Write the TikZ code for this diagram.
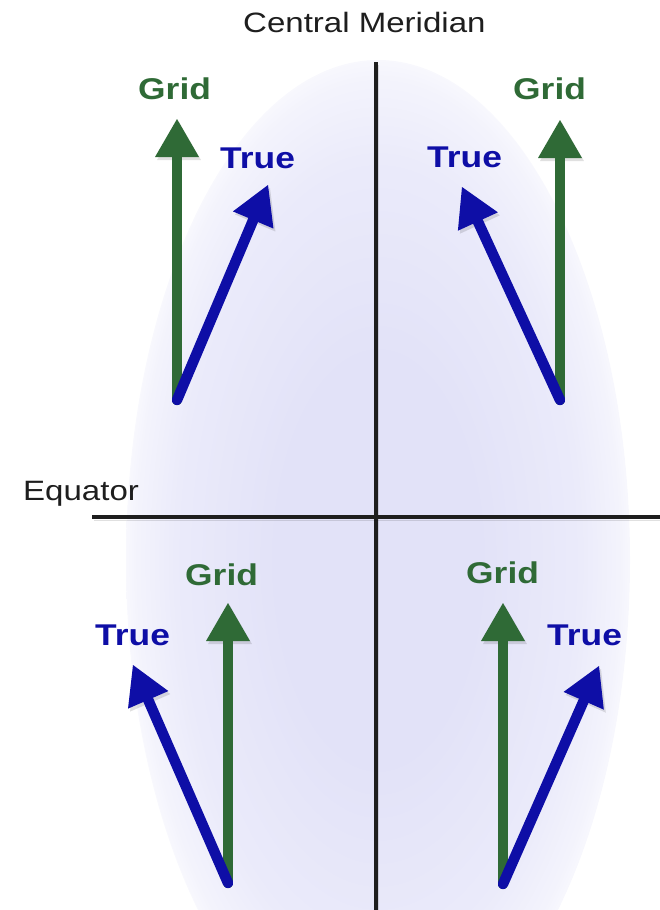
\documentclass[tikz,border=0pt]{standalone}
\usepackage{fontspec}
\setmainfont{Liberation Sans}[FakeStretch=1.18]
\usepackage{xcolor}
\usepackage{tikz}
\usetikzlibrary{arrows.meta}
\definecolor{GridGreen}{HTML}{2F6A36}
\definecolor{TrueBlue}{HTML}{0E0EA6}
\definecolor{Haze}{HTML}{E2E2F8}
\definecolor{Ink}{HTML}{1E1E1E}
\pgfdeclareradialshading{haze}{\pgfpoint{0bp}{0bp}}{color(0bp)=(Haze); color(10bp)=(Haze); color(20bp)=(Haze!70); color(24bp)=(Haze!40); color(25bp)=(Haze!25); color(26bp)=(white); color(50bp)=(white)}

\begin{document}
\begin{tikzpicture}[x=1pt,y=-1pt,
  soft/.style={preaction={draw=black,opacity=.12,transform canvas={shift={(2pt,-3pt)}}}},
  axis/.style={soft,draw=Ink,line width=3.5pt},
  gridarrow/.style={soft,draw=GridGreen,line width=10.5pt,line cap=round,-{Triangle[width=44pt,length=38pt,line width=0pt]}},
  truearrow/.style={soft,draw=TrueBlue,line width=10.5pt,line cap=round,-{Triangle[width=44pt,length=38pt,line width=0pt]}},
  plainlabel/.style={anchor=base west,inner sep=0pt,text=Ink,font=\fontsize{28}{30}\selectfont},
  gridlabel/.style={anchor=base west,inner sep=0pt,text=GridGreen,font=\bfseries\fontsize{30}{32}\selectfont},
  truelabel/.style={anchor=base west,inner sep=0pt,text=TrueBlue,font=\bfseries\fontsize{30}{32}\selectfont}
]
\useasboundingbox (0,0) rectangle (660,910);
\shade[shading=haze] (378,560) ellipse [x radius=252,y radius=500];

% meridian and equator
\coordinate (mTop) at (376,62);
\coordinate (mBot) at (376,910);
\coordinate (eW) at (92,517);
\coordinate (eE) at (660,517);
\draw[axis] (mTop) -- (mBot);
\draw[axis] (eW) -- (eE);

% arrow bases and tips, one set per quadrant
\coordinate (nw) at (177,400); \coordinate (nwG) at (177,119); \coordinate (nwT) at (268,185);
\coordinate (ne) at (560,400); \coordinate (neG) at (560,120); \coordinate (neT) at (462,187);
\coordinate (sw) at (228,883); \coordinate (swG) at (228,603); \coordinate (swT) at (133,665);
\coordinate (se) at (503,884); \coordinate (seG) at (503,603); \coordinate (seT) at (599,666);
\foreach \q in {nw,ne,sw,se} {
  \draw[gridarrow] (\q) -- (\q G);
  \draw[truearrow] (\q) -- (\q T);
}

\node[plainlabel] (cm) at (243,32) {Central Meridian};
\node[plainlabel] (eq) at (23,500) {Equator};
\node[gridlabel] (nwGl) at (138,99) {Grid};
\node[truelabel] (nwTl) at (220,168) {True};
\node[gridlabel] (neGl) at (513,99) {Grid};
\node[truelabel] (neTl) at (427,167) {True};
\node[gridlabel] (swGl) at (185,585) {Grid};
\node[truelabel] (swTl) at (95,645) {True};
\node[gridlabel] (seGl) at (466,583) {Grid};
\node[truelabel] (seTl) at (547,645) {True};
\end{tikzpicture}
\end{document}
